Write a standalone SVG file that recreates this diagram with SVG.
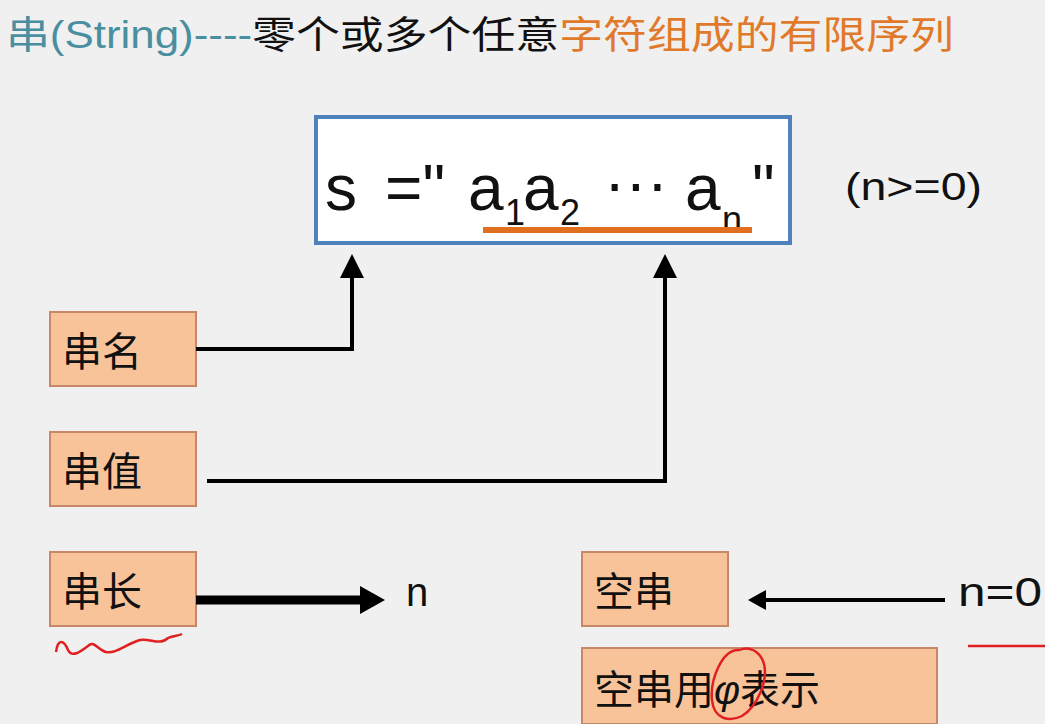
<svg xmlns="http://www.w3.org/2000/svg" width="1045" height="724" viewBox="0 0 1045 724">
<style>
text{font-family:"Liberation Sans","Noto Sans CJK SC",sans-serif;}
.box{fill:#f9c39a;stroke:#c9876a;stroke-width:2}
.lbl{font-size:40px;fill:#111}
.ln{fill:none;stroke:#000;stroke-width:4}
.f{font-size:64px;fill:#111}
.sub{font-size:36px;fill:#111}
</style>
<defs>
<marker id="ah" markerWidth="6" markerHeight="6" refX="5" refY="3" orient="auto" markerUnits="strokeWidth"><path d="M0,0L6,3L0,6z" fill="#000"/></marker>
</defs>
<rect width="1045" height="724" fill="#f0f0f0"/>
<text x="6" y="48" font-size="38" textLength="948" lengthAdjust="spacingAndGlyphs"><tspan fill="#4a8fa0">串(String)----</tspan><tspan fill="#111">零个或多个任意</tspan><tspan fill="#e07a2a">字符组成的有限序列</tspan></text>
<g id="main">
<rect x="316" y="117" width="474" height="126" fill="#fff" stroke="#4f81bd" stroke-width="4"/>
<text class="f" x="325" y="210">s</text>
<text class="f" x="385" y="210">="</text>
<text class="f" x="468" y="210">a</text><text class="sub" x="505" y="225">1</text>
<text class="f" x="523" y="210">a</text><text class="sub" x="560" y="225">2</text>
<text class="f" x="604" y="205">···</text>
<text class="f" x="685" y="210">a</text><text class="sub" x="722" y="232">n</text>
<text class="f" x="752" y="210">"</text>
<line x1="483" y1="230" x2="752" y2="230" stroke="#e07020" stroke-width="6"/>
</g>
<text id="cond" x="845" y="200" font-size="38" fill="#111" textLength="137" lengthAdjust="spacingAndGlyphs">(n&gt;=0)</text>
<g id="n1"><rect class="box" x="50" y="312" width="146" height="74"/><text class="lbl" x="62" y="366">串名</text></g>
<g id="n2"><rect class="box" x="50" y="432" width="146" height="74"/><text class="lbl" x="62" y="486">串值</text></g>
<g id="n3"><rect class="box" x="50" y="552" width="146" height="74"/><text class="lbl" x="62" y="606">串长</text></g>
<g id="n4"><rect class="box" x="582" y="552" width="146" height="74"/><text class="lbl" x="594" y="606">空串</text></g>
<g id="n5"><rect class="box" x="582" y="648" width="355" height="76"/><text class="lbl" x="594" y="704">空串用<tspan font-style="italic">φ</tspan>表示</text></g>
<text id="tn" x="406" y="606" font-size="40" fill="#111">n</text>
<text id="tn0" x="958" y="606" font-size="40" fill="#111" textLength="84" lengthAdjust="spacingAndGlyphs">n=0</text>
<g id="connectors">
<polyline class="ln" points="196,349 352,349 352,258" marker-end="url(#ah)"/>
<polyline class="ln" points="207,481 665,481 665,258" marker-end="url(#ah)"/>
<line x1="196" y1="600" x2="362" y2="600" stroke="#000" stroke-width="9"/>
<path d="M360,586L385,600L360,614z" fill="#000"/>
<line x1="945" y1="600" x2="762" y2="600" stroke="#000" stroke-width="4"/>
<path d="M766,590L748,600L766,610z" fill="#000"/>
</g>
<g fill="none" stroke="#e02020" stroke-width="2.5">
<path d="M56,652 C58,638 64,640 68,650 C72,658 80,652 88,646 C94,640 98,650 106,652 C116,654 126,644 140,640 C150,638 160,646 168,638 C172,636 178,636 182,634"/>
<line x1="968" y1="646" x2="1045" y2="646"/>
<path d="M740,650 C722,648 710,680 712,700 C714,720 730,722 742,716 C758,706 768,680 764,664 C760,650 748,646 740,650"/>
</g>
</svg>
